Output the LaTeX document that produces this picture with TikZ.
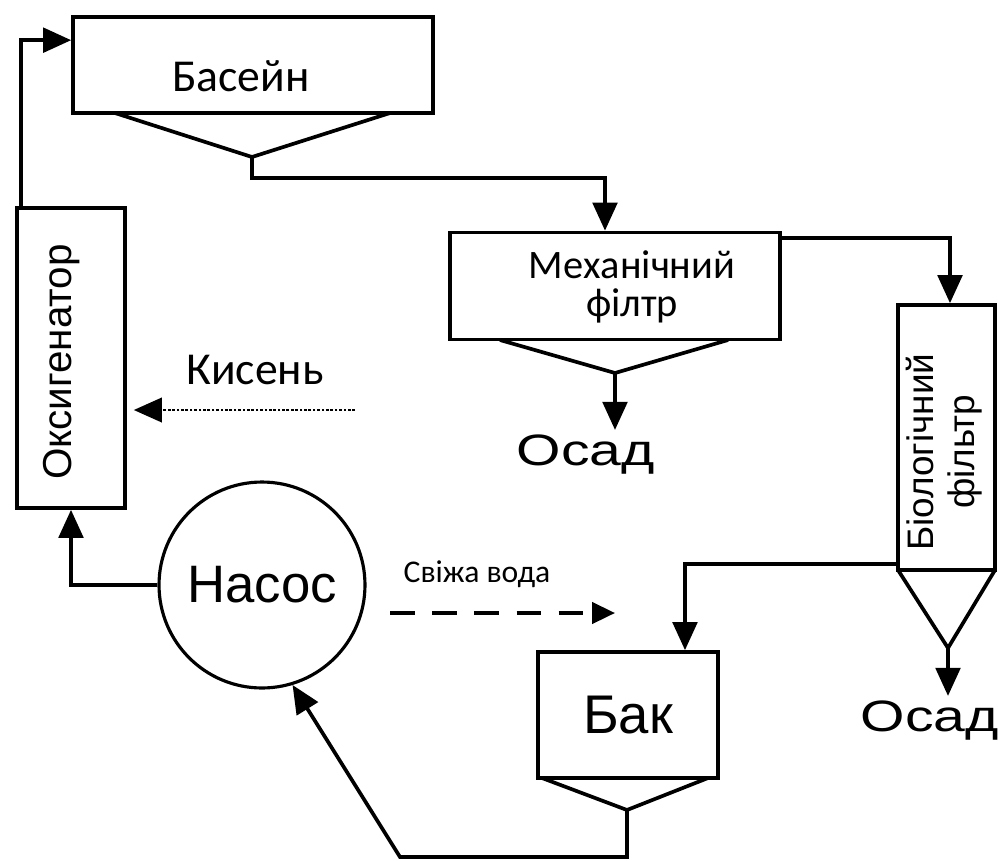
\documentclass[tikz,border=0pt]{standalone}
\usepackage{fontspec}
\setmainfont{Liberation Sans}
\newfontfamily\calfont{Carlito}
\usetikzlibrary{arrows.meta}

\newcommand{\wide}[1]{\scalebox{1.3}[1]{#1}}

\begin{document}
\begin{tikzpicture}[x=0.02cm, y=-0.02cm, line width=2.1pt,
  box/.style={draw, inner sep=0pt},
  flow/.style={-{Triangle[length=16pt, width=14pt]}},
  big/.style={font=\fontsize{23}{27}\selectfont},
  cal/.style={font=\calfont\fontsize{26}{30}\selectfont}]
  \useasboundingbox (0,0) rectangle (998,860);

  \node[box, minimum width=7.2cm, minimum height=1.92cm] (pool) at (253,65) {};
  \node[cal] (pool-text) at (241,76) {Басейн};
  \node[box, minimum width=2.16cm, minimum height=6cm] (oxy) at (71,358) {};
  \node[big, rotate=90] (oxy-text) at (62,362) {Оксигенатор};
  \node[box, minimum width=6.6cm, minimum height=2.14cm] (mech) at (615,286) {};
  \node[font=\calfont\fontsize{23}{22}\selectfont, align=center] (mech-text) at (632,287) {Механічний\\філтр};
  \node[box, minimum width=1.94cm, minimum height=5.3cm] (bio) at (946.5,437.5) {};
  \node[font=\fontsize{21}{23}\selectfont, rotate=90, align=center] (bio-text) at (944,452) {Біологічний\\фільтр};
  \node[draw, circle, minimum size=4.12cm, inner sep=0pt, line width=1.8pt, font=\fontsize{30}{36}\selectfont] (pump) at (262,585) {Насос};
  \node[box, minimum width=3.6cm, minimum height=2.52cm, font=\fontsize{31}{36}\selectfont] (tank) at (628,715) {Бак};

  \node[cal] (o2) at (255,370) {Кисень};
  \node[font=\calfont\fontsize{18}{21}\selectfont] (fresh) at (477,574) {Свіжа вода};
  \node[font=\fontsize{25}{30}\selectfont, inner sep=2pt] (sed1) at (586,455) {\wide{Осад}};
  \node[font=\fontsize{25}{30}\selectfont, inner sep=2pt] (sed2) at (930,721) {\wide{Осад}};

  \coordinate (pool-tip) at (252,157);
  \coordinate (mech-tip) at (615,373);
  \coordinate (bio-tip) at (948,648);
  \coordinate (tank-tip) at (627,810);
  \coordinate (o2-in) at (355,410);
  \coordinate (water-in) at (390,613);
  \coordinate (water-out) at (615,613);
  \coordinate (back) at (400,857);

  \draw (115,113) -- (pool-tip) -- (390,113);
  \draw (500,340) -- (mech-tip) -- (728,340);
  \draw (898,570) -- (bio-tip) -- (995,570);
  \draw (542,778) -- (tank-tip) -- (708,778);

  \draw[flow] ([xshift=0.12cm]oxy.north west) |- ([yshift=-0.5cm]pool.north west);
  \draw[flow] (pool-tip) -- ++(0,21) -| ([xshift=-0.2cm]mech.north);
  \draw[flow] ([yshift=-0.14cm]mech.north east) -| ([xshift=0.07cm]bio.north);
  \draw[flow] (mech-tip) -- (mech-tip |- sed1.north);
  \draw[flow] (bio-tip) -- (bio-tip |- sed2.north);
  \draw[flow] ([yshift=0.16cm]bio.south west) -| ([xshift=1.14cm]tank.north);
  \draw[flow] (tank-tip) |- (back) -- (pump.-73);
  \draw[flow] (pump.west) -| (oxy.south);
  \draw[flow, line width=1.2pt, dash pattern=on 1.5pt off 1pt, shorten >=0.14cm] (o2-in) -- (oxy.east |- o2-in);
  \draw[-{Triangle[length=13pt, width=12pt]}, dash pattern=on 14pt off 10pt] (water-in) -- (water-out);
\end{tikzpicture}
\end{document}
